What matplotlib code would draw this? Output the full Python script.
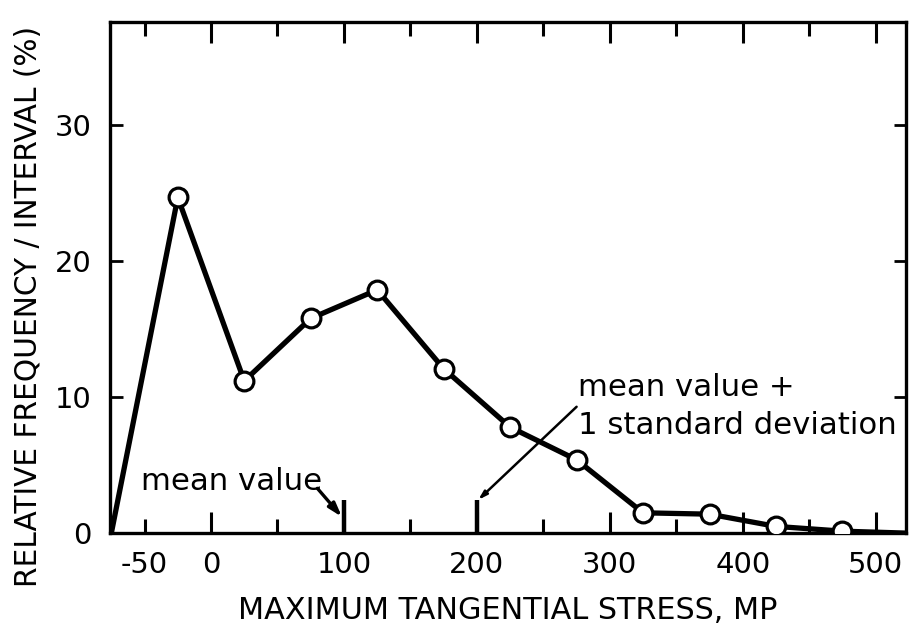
"""Relative frequency of maximum tangential stress (recreated figure)."""

import matplotlib

matplotlib.use("Agg")
import matplotlib.pyplot as plt
from matplotlib import font_manager

# stress class midpoints (MP) and relative frequency per interval (%)
stress = [-75, -25, 25, 75, 125, 175, 225, 275, 325, 375, 425, 475, 525]
frequency = [0.0, 24.7, 11.2, 15.8, 17.9, 12.1, 7.8, 5.4, 1.5, 1.4, 0.5, 0.15, 0.0]
# which of the points above carry an open circle
marked = [False] + [True] * 11 + [False]

major_x = [0, 100, 200, 300, 400, 500]
minor_x = [-50, 50, 150, 250, 350, 450]
minor_x_labels = ["-50", "", "", "", "", ""]
y_ticks = [0, 10, 20, 30]

mean_value = 100
mean_plus_sd = 200

# narrow technical lettering if we have it, otherwise DejaVu scaled down
names = {f.name for f in font_manager.fontManager.ttflist}
if "Liberation Sans Narrow" in names:
    family, k = "Liberation Sans Narrow", 1.0
else:
    family, k = "DejaVu Sans", 0.87
plt.rcParams["font.family"] = [family, "DejaVu Sans"]

fig = plt.figure(figsize=(9.09, 6.31), dpi=100)
ax = fig.add_axes([0.121, 0.155, 0.876, 0.81])

ax.plot(stress, frequency, color="black", lw=3.8, solid_joinstyle="round",
        zorder=3, clip_on=True)
mx = [s for s, m in zip(stress, marked) if m]
my = [f for f, m in zip(frequency, marked) if m]
ax.plot(mx, my, "o", ms=13.5, mfc="white", mec="black", mew=2.3, zorder=4)

ax.set_xlim(-76, 523)
ax.set_ylim(0, 37.6)

# marks for mean and mean + 1 sd on the stress axis
for xv in (mean_value, mean_plus_sd):
    ax.plot([xv, xv], [0, 2.45], color="black", lw=3.2, zorder=3,
            solid_capstyle="butt")

ax.text(-53, 3.8, "mean value", fontsize=25.5 * k, ha="left", va="center")
ax.annotate("", xy=(mean_value - 1.5, 1.2), xytext=(80, 3.3),
            arrowprops=dict(arrowstyle="-|>,head_length=0.8,head_width=0.25",
                            color="black", lw=2.4, shrinkA=0, shrinkB=0))
ax.annotate("", xy=(mean_plus_sd + 1, 2.45), xytext=(275, 9.3),
            arrowprops=dict(arrowstyle="-|>,head_length=0.5,head_width=0.15",
                            color="black", lw=1.8, shrinkA=0, shrinkB=0))
ax.text(276, 10.7, "mean value +", fontsize=25.5 * k, ha="left", va="center")
ax.text(276, 7.9, "1 standard deviation", fontsize=25.5 * k, ha="left",
        va="center")

ax.set_xticks(major_x, [str(v) for v in major_x])
ax.set_xticks(minor_x, minor_x_labels, minor=True)
ax.set_yticks(y_ticks, [str(v) for v in y_ticks])

ax.tick_params(axis="x", which="major", direction="in", top=True, length=15,
               width=2.2, pad=13, labelsize=24 * k)
ax.tick_params(axis="x", which="minor", direction="in", top=True, length=10,
               width=2.2, pad=13, labelsize=24 * k)
ax.tick_params(axis="y", direction="in", right=True, length=9, width=2.0,
               pad=13, labelsize=24 * k)

for side in ax.spines.values():
    side.set_linewidth(2.4)

ax.set_xlabel("MAXIMUM TANGENTIAL STRESS, MP", fontsize=25 * k, labelpad=12)
ax.set_ylabel("RELATIVE FREQUENCY / INTERVAL (%)", fontsize=24.5 * k)
# the printed label sits a little below the middle of the axis
ax.yaxis.set_label_coords(-0.084, 0.443)

fig.savefig("out.png", dpi=100)
plt.close(fig)
